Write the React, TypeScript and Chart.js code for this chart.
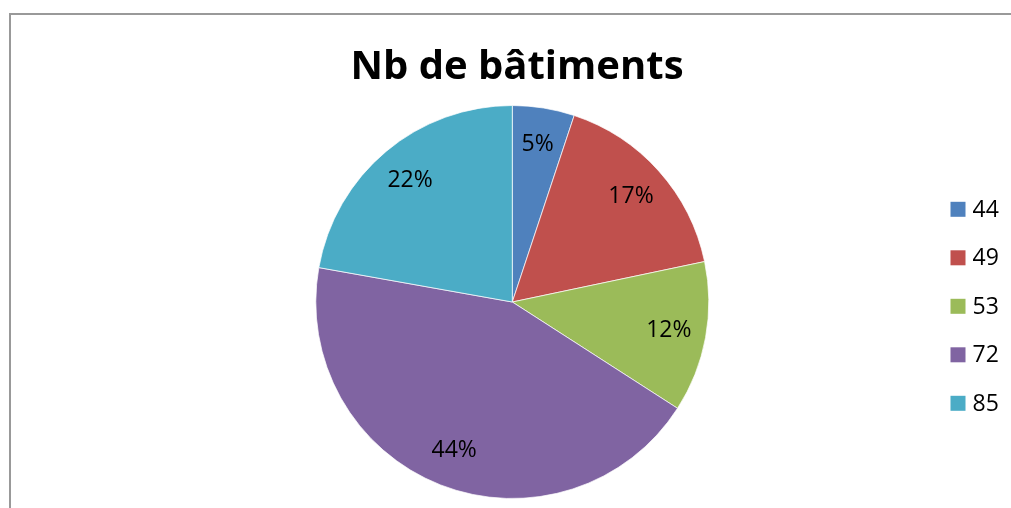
import React, { useEffect, useRef } from "react";
import { Chart, registerables, layouts } from "chart.js";

Chart.register(...registerables);

const categories = ["44", "49", "53", "72", "85"];
const shares = [5.1, 16.6, 12.4, 43.7, 22.2];
const colors = ["#4F81BD", "#C0504D", "#9BBB59", "#8064A2", "#4BACC6"];
const titleText = "Nb de bâtiments";
const FONT = "'Open Sans', Lato, sans-serif";

const pieLabels = {
  id: "pieLabels",
  afterDatasetsDraw(chart: any) {
    const ctx = chart.ctx;
    const meta = chart.getDatasetMeta(0);
    const data = chart.data.datasets[0].data as number[];
    const total = data.reduce((a, b) => a + b, 0);
    ctx.save();
    ctx.font = `23px ${FONT}`;
    ctx.fillStyle = "#000";
    ctx.textAlign = "center";
    ctx.textBaseline = "middle";
    meta.data.forEach((arc: any, i: number) => {
      const p = arc.getProps(["x", "y", "startAngle", "endAngle", "outerRadius"], true);
      const mid = (p.startAngle + p.endAngle) / 2;
      const r = p.outerRadius * 0.81;
      ctx.fillText(
        Math.round((data[i] / total) * 100) + "%",
        p.x + Math.cos(mid) * r,
        p.y + Math.sin(mid) * r
      );
    });
    ctx.restore();
  },
};

// Right-side legend as a layout box (narrow box; items drawn to its right)
const sideLegend = {
  id: "sideLegend",
  start(chart: any) {
    const box: any = {
      position: "right",
      weight: 1000,
      fullSize: false,
      options: { stackWeight: 1 },
      top: 0,
      left: 0,
      right: 0,
      bottom: 0,
      width: 0,
      height: 0,
      isHorizontal: () => false,
      update(maxWidth: number, maxHeight: number) {
        box.width = 9.4;
        box.height = maxHeight;
      },
      draw() {
        const ctx = chart.ctx;
        const labels = chart.data.labels as string[];
        const bg = chart.data.datasets[0].backgroundColor as string[];
        const n = labels.length;
        const spacing = 48.5;
        const cy = (box.top + box.bottom) / 2 + 4.3;
        const x0 = box.left + 27;
        ctx.save();
        ctx.font = `23px ${FONT}`;
        ctx.textAlign = "left";
        ctx.textBaseline = "middle";
        labels.forEach((lab, i) => {
          const y = cy + (i - (n - 1) / 2) * spacing;
          ctx.fillStyle = bg[i];
          ctx.fillRect(x0, y - 7.5, 15, 15);
          ctx.fillStyle = "#000";
          ctx.fillText(lab, x0 + 22, y + 1);
        });
        ctx.restore();
      },
    };
    layouts.addBox(chart, box);
    chart.$sideLegend = box;
  },
  stop(chart: any) {
    if (chart.$sideLegend) layouts.removeBox(chart, chart.$sideLegend);
  },
};

export default function App() {
  const ref = useRef<HTMLCanvasElement | null>(null);
  useEffect(() => {
    if (!ref.current) return;
    const chart = new Chart(ref.current, {
      type: "pie",
      data: {
        labels: categories,
        datasets: [
          {
            data: shares,
            backgroundColor: colors,
            borderColor: "rgba(255,255,255,0.7)",
            borderWidth: 1,
          },
        ],
      },
      options: {
        responsive: false,
        animation: false,
        layout: { padding: { left: 101.1, right: 78.1, top: 0, bottom: 9 } },
        plugins: {
          title: {
            display: true,
            text: titleText,
            color: "#000",
            font: { family: FONT, size: 40, weight: "bold" },
            padding: { top: 43.5, bottom: 13.5 },
          },
          legend: { display: false },
          tooltip: { enabled: false },
        },
      },
      plugins: [pieLabels, sideLegend],
    } as any);
    return () => chart.destroy();
  }, []);
  return (
    <div style={{ position: "fixed", left: 0, top: 0, width: 1011, height: 508, background: "#fff", overflow: "hidden" }}>
      <div
        style={{
          position: "absolute",
          left: 9,
          top: 13,
          width: 1200,
          height: 800,
          border: "2px solid #999",
        }}
      />
      <canvas ref={ref} width={1011} height={508} style={{ position: "absolute", left: 0, top: 0 }} />
    </div>
  );
}
